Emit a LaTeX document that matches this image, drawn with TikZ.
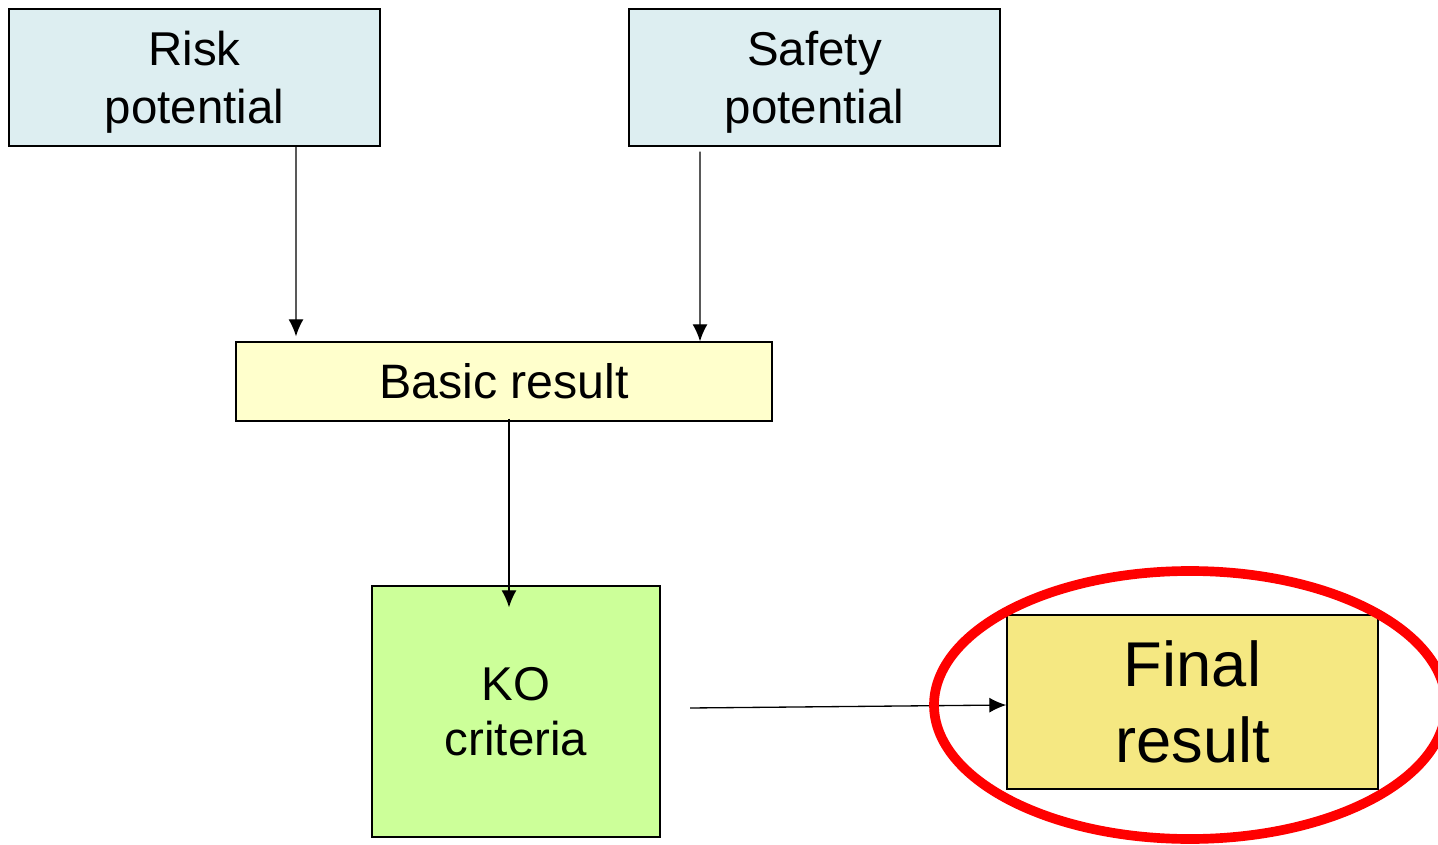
\documentclass[tikz,border=0pt]{standalone}
\usepackage{fontspec}
\setmainfont{Liberation Sans}
\usetikzlibrary{positioning}
\usetikzlibrary{arrows.meta}
\definecolor{PaleBlue}{RGB}{221,238,241}
\definecolor{PaleYellow}{RGB}{255,255,204}
\definecolor{LimeGreen}{RGB}{204,255,153}
\definecolor{Sand}{RGB}{245,232,130}
\definecolor{Mark}{RGB}{255,0,0}

\begin{document}
\begin{tikzpicture}[>={Latex[length=3.4mm,width=3mm]}, line width=0.75pt,
    block/.style={draw, line width=0.8pt, inner sep=0pt, align=center,
      font=\fontsize{27}{33}\selectfont}]
      \useasboundingbox (0,0) rectangle (28.76,-16.9);

      \node[block, fill=PaleBlue, minimum width=7.42cm, minimum height=2.74cm, text depth=0pt] at (3.89,-1.55) (risk) {Risk\\potential};
      \node[block, fill=PaleBlue, minimum width=7.42cm, minimum height=2.74cm, text depth=0pt] at (16.29,-1.55) (safety) {Safety\\potential};
      \node[block, fill=PaleYellow, minimum width=10.72cm, minimum height=1.58cm, font=\fontsize{27.5}{33}\selectfont] at (10.08,-7.63) (basic) {Basic result};
      \node[block, fill=LimeGreen, minimum width=5.76cm, minimum height=5.02cm, font=\fontsize{27}{31}\selectfont] at (10.32,-14.23) (ko) {KO\\criteria};
      \node[block, fill=Sand, minimum width=7.42cm, minimum height=3.48cm, font=\fontsize{36}{43}\selectfont] at (23.85,-14.04) (final) {Final\\result};

      \draw[->] ([xshift=2.03cm]risk.south) -- ([xshift=-4.16cm, yshift=0.1cm]basic.north);
      \draw[->] ([xshift=-2.29cm, yshift=-0.1cm]safety.south) -- ([xshift=3.92cm]basic.north);
      \draw[->] ([xshift=0.1cm, yshift=0.06cm]basic.south) -- ([xshift=-0.14cm, yshift=-0.44cm]ko.north);

      \coordinate (koout) at (13.8,-14.16);
      \draw[->] (koout) -- ([yshift=-0.06cm]final.west);

      \draw[Mark, line width=5.5pt] (23.8,-14.1) ellipse (5.12cm and 2.68cm);
    \end{tikzpicture}
\end{document}
